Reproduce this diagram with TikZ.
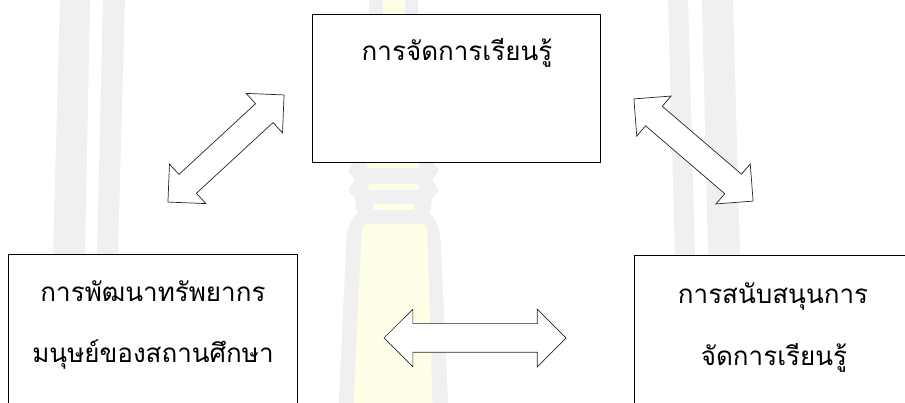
\documentclass[tikz,border=0pt]{standalone}
\usepackage{fontspec}
\newfontfamily\thaifont[Script=Thai]{Loma}
\usepackage{tikz}
\usetikzlibrary{shapes,shapes.arrows}
\definecolor{wmgray}{RGB}{240,240,240}
\definecolor{wmyellow}{RGB}{255,255,232}
\begin{document}
\begin{tikzpicture}[join=miter]
 \tikzstyle{box}=[draw=black,fill=white,line width=0.9bp,inner sep=0pt]
 \tikzstyle{label}=[font=\thaifont\fontsize{26bp}{31bp}\selectfont,anchor=base,inner sep=0pt]
 \tikzstyle{dblarrow}=[double arrow,draw=black!85,fill=white,line width=0.7bp,inner sep=0pt,minimum width=0pt,double arrow head indent=0pt]
 \useasboundingbox (0,0) rectangle (905bp,403bp);
 \clip (0,0) rectangle (905bp,403bp);

 % watermark
 \fill[wmgray] (60bp,403bp) -- (90bp,403bp) -- (85bp,149bp) -- (53bp,149bp) -- cycle;
 \fill[wmgray] (103bp,403bp) -- (125bp,403bp) -- (118bp,149bp) -- (97bp,149bp) -- cycle;
 \fill[wmgray] (668bp,403bp) -- (688bp,403bp) -- (695bp,148bp) -- (675bp,148bp) -- cycle;
 \fill[wmgray] (702bp,403bp) -- (733bp,403bp) -- (740bp,148bp) -- (708bp,148bp) -- cycle;
 \fill[wmgray] (369bp,403bp) rectangle (418bp,238bp);
 \fill[wmgray] (353bp,240bp) -- (348bp,232bp) -- (355bp,223bp) -- (348bp,213bp) -- (355bp,204bp) -- (357bp,191bp)
   -- (430bp,191bp) -- (432bp,204bp) -- (439bp,213bp) -- (432bp,223bp) -- (439bp,232bp) -- (434bp,240bp) -- cycle;
 \fill[wmgray,rounded corners=10bp] (360bp,195bp) -- (347bp,175bp) -- (338bp,-17bp) -- (449bp,-17bp) -- (440bp,175bp) -- (427bp,195bp) -- cycle;
 \fill[wmyellow] (383bp,403bp) rectangle (405bp,389bp);
 \fill[wmyellow,rounded corners=3bp] (367bp,241bp) rectangle (420bp,235bp);
 \fill[wmyellow,rounded corners=3bp] (368bp,219bp) rectangle (419bp,213bp);
 \fill[wmyellow,rounded corners=3bp] (373bp,199bp) rectangle (414bp,193bp);
 \fill[wmyellow,rounded corners=6bp] (353bp,-17bp) -- (362bp,179bp) -- (427bp,179bp) -- (433bp,-17bp) -- cycle;

 \node (learn) at (456bp,315bp) [box,minimum width=288bp,minimum height=148bp] {};
 \node (hrd) at (152.5bp,66bp) [box,minimum width=289bp,minimum height=166bp] {};
 \node (support) at (773bp,65.5bp) [box,minimum width=278bp,minimum height=165bp] {};

 \node (learntext) at (457bp,342bp) [label] {การจัดการเรียนรู้};
 \node (hrdtexta) at (153bp,101bp) [label] {การพัฒนาทรัพยากร};
 \node (hrdtextb) at (153bp,40bp) [label] {มนุษย์ของสถานศึกษา};
 \node (supporttexta) at (773bp,99bp) [label] {การสนับสนุนการ};
 \node (supporttextb) at (774bp,38bp) [label] {จัดการเรียนรู้};

 \node (learnhrd) at (226bp,254.5bp) [dblarrow,rotate=42.7,minimum height=158bp,inner ysep=12.5bp,double arrow head extend=14bp] {};
 \node (learnsupport) at (693.5bp,253bp) [dblarrow,rotate=-40.6,minimum height=157bp,inner ysep=12.5bp,double arrow head extend=13.5bp] {};
 \node (hrdsupport) at (475bp,65bp) [dblarrow,minimum height=182bp,inner ysep=14bp,double arrow head extend=14.5bp] {};

\end{tikzpicture}
\end{document}
